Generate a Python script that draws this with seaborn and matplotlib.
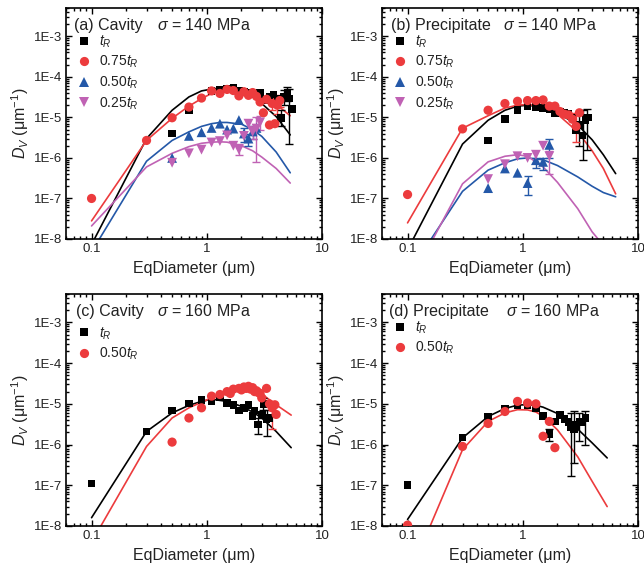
import numpy as np
import pandas as pd
import matplotlib
matplotlib.use("Agg")
import matplotlib.pyplot as plt
import seaborn as sns
from matplotlib.lines import Line2D
from matplotlib.ticker import LogLocator, FixedLocator, FuncFormatter, NullFormatter

# ---------------- data ----------------
# Panel (a) Cavity, 140 MPa
a_line_x = [0.1, 0.3, 0.5, 0.7, 0.9, 1.1, 1.3, 1.5, 2.0, 2.5, 3.0, 4.0, 5.3]
a_line_tR = [7.3e-9, 3e-6, 1.5e-5, 3.2e-5, 4.5e-5, 5.0e-5, 5.3e-5, 5.3e-5, 4.4e-5, 3.3e-5, 2.2e-5, 1.05e-5, 3.7e-6]
a_line_75 = [2.8e-8, 2.7e-6, 9.5e-6, 1.9e-5, 2.9e-5, 3.9e-5, 4.5e-5, 4.9e-5, 4.6e-5, 3.8e-5, 3.1e-5, 2.1e-5, 1.1e-5]
a_line_50 = [4.8e-9, 8.3e-7, 2.7e-6, 4.4e-6, 6.0e-6, 7.0e-6, 7.5e-6, 7.5e-6, 6.8e-6, 5.0e-6, 3.4e-6, 1.4e-6, 4.3e-7]
a_line_25 = [2.1e-8, 6e-7, 1.3e-6, 1.9e-6, 2.3e-6, 2.45e-6, 2.5e-6, 2.45e-6, 2.0e-6, 1.5e-6, 1.05e-6, 5.5e-7, 2.4e-7]

a_tR_x = [0.5, 0.7, 1.1, 1.3, 1.5, 1.7, 1.9, 2.1, 2.4, 2.6, 2.9, 3.2, 3.5, 3.8, 4.1, 4.4, 4.7, 5.0, 5.2, 5.5]
a_tR_y = [4e-6, 1.5e-5, 4.5e-5, 4.9e-5, 5.1e-5, 5.3e-5, 4.5e-5, 4.4e-5, 4.1e-5, 3.8e-5, 4.0e-5, 2.7e-5, 3.2e-5, 3.7e-5, 2.9e-5, 9.5e-6, 3.3e-5, 4.0e-5, 2.9e-5, 1.6e-5]
a_75_x = [0.1, 0.3, 0.5, 0.7, 0.9, 1.1, 1.3, 1.5, 1.7, 1.9, 2.1, 2.3, 2.5, 2.7, 2.9, 3.1, 3.3, 3.5, 3.7, 3.9, 4.1, 4.3]
a_75_y = [1e-7, 2.7e-6, 9.8e-6, 1.8e-5, 3e-5, 4.5e-5, 3.9e-5, 4.9e-5, 4.6e-5, 3.4e-5, 4.3e-5, 3.5e-5, 4.1e-5, 3.3e-5, 2.4e-5, 1.3e-5, 2.8e-5, 6.5e-6, 2.2e-5, 7e-6, 2.0e-5, 2.6e-5]
a_50_x = [0.5, 0.7, 0.9, 1.1, 1.3, 1.5, 1.7, 1.9, 2.1, 2.3, 2.5, 2.7]
a_50_y = [1.0e-6, 3.5e-6, 4.3e-6, 5.5e-6, 7e-6, 5e-6, 5.3e-6, 8.6e-6, 4e-6, 3.0e-6, 4.5e-6, 5.5e-6]
a_25_x = [0.5, 0.7, 0.9, 1.1, 1.3, 1.5, 1.7, 1.9, 2.1, 2.3, 2.5, 2.7, 2.9]
a_25_y = [7.6e-7, 1.3e-6, 1.6e-6, 2.4e-6, 2.6e-6, 3.6e-6, 2.0e-6, 1.6e-6, 3.5e-6, 7e-6, 4.4e-6, 5.3e-6, 7.5e-6]

a_tR_ex, a_tR_elo, a_tR_ehi = [5.2, 5.0, 4.7, 4.4], [2.2e-6, 2.5e-5, 2e-5, 6e-6], [5e-5, 5.5e-5, 4.8e-5, 1.5e-5]
a_75_ex, a_75_elo, a_75_ehi = [4.1, 4.3, 3.7], [1.2e-5, 1.8e-5, 1.5e-5], [2.8e-5, 3.5e-5, 3e-5]
a_50_ex, a_50_elo, a_50_ehi = [2.1, 2.3, 2.5], [2.5e-6, 2e-6, 3e-6], [5.5e-6, 4e-6, 6e-6]
a_25_ex, a_25_elo, a_25_ehi = [1.9, 2.7, 2.9, 2.5], [1.2e-6, 8e-7, 5e-6, 3e-6], [2.2e-6, 1e-5, 1.1e-5, 6e-6]

# Panel (b) Precipitate, 140 MPa
b_line_x = [0.1, 0.3, 0.5, 0.7, 0.9, 1.1, 1.5, 2.0, 3.0, 4.0, 5.0, 6.4]
b_line_tR = [5.4e-9, 2.2e-6, 8.5e-6, 1.5e-5, 1.9e-5, 2.0e-5, 1.8e-5, 1.3e-5, 6.5e-6, 2.8e-6, 1.2e-6, 4.1e-7]
b_line_75 = [2.5e-8, 5.4e-6, 1.1e-5, 1.7e-5, 2.0e-5, 2.1e-5, 1.8e-5, 1.2e-5, 4.4e-6, 1.5e-6, 5.5e-7, 1.3e-7]
b_line_50 = [1.3e-9, 1.5e-7, 5e-7, 7.6e-7, 9.5e-7, 1.0e-6, 9e-7, 6.5e-7, 3.4e-7, 2e-7, 1.4e-7, 1.1e-7]
b_line_25 = [6.8e-10, 2.3e-7, 8e-7, 1.1e-6, 1.2e-6, 1.1e-6, 6e-7, 2.5e-7, 5.6e-8, 1.5e-8, 7e-9, 2e-9]

b_tR_x = [0.5, 0.7, 0.9, 1.1, 1.3, 1.5, 1.7, 1.9, 2.1, 2.3, 2.5, 2.7, 2.9, 3.1, 3.3, 3.5, 3.7]
b_tR_y = [2.7e-6, 9e-6, 1.5e-5, 1.9e-5, 1.8e-5, 1.7e-5, 1.6e-5, 1.3e-5, 1.4e-5, 1.3e-5, 1.2e-5, 1.0e-5, 4.8e-6, 6.5e-6, 3.6e-6, 8.5e-6, 1.0e-5]
b_75_x = [0.1, 0.3, 0.5, 0.7, 0.9, 1.1, 1.3, 1.5, 1.7, 1.9, 2.1, 2.3, 2.5, 2.7, 2.9, 3.1]
b_75_y = [1.25e-7, 5.2e-6, 1.5e-5, 2.2e-5, 2.5e-5, 2.6e-5, 2.6e-5, 2.7e-5, 1.9e-5, 1.9e-5, 1.4e-5, 1.2e-5, 1.15e-5, 9e-6, 6e-6, 1.3e-5]
b_50_x = [0.5, 0.7, 0.9, 1.1, 1.3, 1.5, 1.7]
b_50_y = [1.8e-7, 5.5e-7, 4.3e-7, 2.4e-7, 8.8e-7, 8e-7, 2.1e-6]
b_25_x = [0.5, 0.7, 0.9, 1.1, 1.3, 1.5, 1.7]
b_25_y = [3e-7, 7e-7, 1.1e-6, 1.0e-6, 1.2e-6, 2e-6, 1.1e-6]

b_tR_ex, b_tR_elo, b_tR_ehi = [3.1, 3.3, 3.6], [2e-6, 9e-7, 1.6e-6], [1.2e-5, 1.5e-5, 1.6e-5]
b_75_ex, b_75_elo, b_75_ehi = [2.9], [2.5e-6], [1.3e-5]
b_50_ex, b_50_elo, b_50_ehi = [1.1, 1.3, 1.5, 1.7], [1.2e-7, 5.5e-7, 5e-7, 1e-6], [3.5e-7, 1e-6, 1e-6, 3e-6]
b_25_ex, b_25_elo, b_25_ehi = [1.7], [4e-7], [1.5e-6]

# Panel (c) Cavity, 160 MPa
c_line_x = [0.1, 0.3, 0.5, 0.7, 0.9, 1.1, 1.5, 2.0, 2.5, 3.0, 4.0, 5.4]
c_line_tR = [1.6e-8, 2.1e-6, 6.0e-6, 9.2e-6, 1.15e-5, 1.3e-5, 1.15e-5, 8.7e-6, 6.3e-6, 4.5e-6, 2.1e-6, 8.4e-7]
c_line_50 = [4e-9, 9e-7, 4.5e-6, 8e-6, 1.1e-5, 1.4e-5, 2.0e-5, 2.4e-5, 2.2e-5, 1.75e-5, 9.5e-6, 5.3e-6]

c_tR_x = [0.1, 0.3, 0.5, 0.7, 0.9, 1.1, 1.3, 1.5, 1.7, 1.9, 2.1, 2.3, 2.5, 2.6, 2.8, 3.0, 3.1, 3.3, 3.5]
c_tR_y = [1.1e-7, 2.1e-6, 6.8e-6, 1.03e-5, 1.25e-5, 1.15e-5, 1.45e-5, 1.05e-5, 9.5e-6, 6.8e-6, 8e-6, 9.3e-6, 5e-6, 6.8e-6, 3.1e-6, 5.5e-6, 1e-5, 4.2e-6, 4.5e-6]
c_50_x = [0.5, 0.7, 0.9, 1.1, 1.3, 1.5, 1.6, 1.7, 1.9, 2.0, 2.1, 2.2, 2.3, 2.4, 2.5, 2.6, 2.7, 2.8, 2.9, 3.0, 3.3, 3.5, 3.7, 3.9, 4.0]
c_50_y = [1.15e-6, 4.5e-6, 8e-6, 1.55e-5, 1.7e-5, 2.0e-5, 1.8e-5, 2.3e-5, 2.4e-5, 2.2e-5, 2.6e-5, 2.4e-5, 2.7e-5, 2.3e-5, 2.5e-5, 2.0e-5, 2.1e-5, 1.9e-5, 1.8e-5, 1.4e-5, 2.4e-5, 1.0e-5, 8e-6, 9.5e-6, 5.5e-6]

c_tR_ex, c_tR_elo, c_tR_ehi = [2.8, 3.3, 3.1], [1.8e-6, 1.6e-6, 7e-6], [4.5e-6, 7e-6, 1.4e-5]
c_50_ex, c_50_elo, c_50_ehi = [3.7], [2.4e-6], [1.1e-5]

# Panel (d) Precipitate, 160 MPa
d_line_x = [0.1, 0.3, 0.5, 0.7, 0.9, 1.1, 1.3, 1.5, 2.0, 3.0, 4.0, 5.4]
d_line_tR = [1.45e-8, 1.46e-6, 4.9e-6, 7.7e-6, 9.3e-6, 9.6e-6, 9.2e-6, 8.3e-6, 5.8e-6, 2.4e-6, 1.1e-6, 4.7e-7]
d_line_50 = [4.9e-10, 7.5e-7, 3.7e-6, 6.0e-6, 7.2e-6, 7.1e-6, 6.3e-6, 5.0e-6, 2.3e-6, 5e-7, 1.25e-7, 3e-8]

d_tR_x = [0.1, 0.3, 0.5, 0.7, 0.9, 1.1, 1.3, 1.5, 1.7, 1.9, 2.1, 2.3, 2.5, 2.6, 2.8, 2.9, 3.1, 3.3, 3.5]
d_tR_y = [1e-7, 1.5e-6, 4.9e-6, 7.5e-6, 9.1e-6, 9.1e-6, 8e-6, 5e-6, 1.8e-6, 3.7e-6, 5.4e-6, 4.2e-6, 3.6e-6, 2.6e-6, 2.4e-6, 3e-6, 3.7e-6, 3.5e-6, 4.5e-6]
d_50_x = [0.1, 0.3, 0.5, 0.7, 0.9, 1.1, 1.3, 1.5, 1.7, 1.9]
d_50_y = [1.05e-8, 9e-7, 3.3e-6, 6.5e-6, 1.15e-5, 1.05e-5, 1.0e-5, 1.6e-6, 3.7e-6, 8.4e-7]

d_tR_ex, d_tR_elo, d_tR_ehi = [1.7, 2.6, 2.8, 3.1, 3.5], [1.2e-6, 1.7e-7, 3.6e-7, 1.2e-6, 1e-6], [2.4e-6, 6e-6, 6.5e-6, 6e-6, 6.5e-6]

labels_4 = [r"$t_R$", r"0.75$t_R$", r"0.50$t_R$", r"0.25$t_R$"]
labels_2 = [r"$t_R$", r"0.50$t_R$"]
x_ticks = [0.1, 1, 10]
x_ticklabels = ["0.1", "1", "10"]
y_ticks = [1e-8, 1e-7, 1e-6, 1e-5, 1e-4, 1e-3]
y_ticklabels = ["1E-8", "1E-7", "1E-6", "1E-5", "1E-4", "1E-3"]

# ---------------- style ----------------
BLACK = "#000000"
RED = "#ec3b3d"
BLUE = "#2458a8"
PURPLE = "#c062b4"
TEXT = "#222222"

sns.set_style("ticks")
plt.rcParams['font.family'] = ['Liberation Sans', 'DejaVu Sans']
plt.rcParams['mathtext.fontset'] = 'custom'
plt.rcParams['mathtext.rm'] = 'Liberation Sans'
plt.rcParams['mathtext.it'] = 'Liberation Sans:italic'
plt.rcParams['mathtext.bf'] = 'Liberation Sans:bold'
plt.rcParams['axes.linewidth'] = 1.2
plt.rcParams['text.color'] = TEXT
plt.rcParams['axes.labelcolor'] = TEXT
plt.rcParams['axes.edgecolor'] = BLACK
plt.rcParams['xtick.color'] = BLACK
plt.rcParams['ytick.color'] = BLACK
plt.rcParams['xtick.labelcolor'] = TEXT
plt.rcParams['ytick.labelcolor'] = TEXT

W, H = 644, 572
fig = plt.figure(figsize=(W / 100, H / 100), dpi=100)


def px_axes(left, top, right, bottom):
    return fig.add_axes([left / W, 1 - bottom / H, (right - left) / W, (bottom - top) / H])


def draw_panel(ax, tag, tag_x, sigma_x, sigma, series, lines, errs, labels, leg_y=0.89):
    ax.set_xscale('log')
    ax.set_yscale('log')
    ax.set_xlim(0.06, 10)
    ax.set_ylim(1e-8, 5e-3)
    # fitted curves
    for (lx, ly, col) in lines:
        df = pd.DataFrame({'x': lx, 'y': ly})
        sns.lineplot(data=df, x='x', y='y', color=col, lw=1.2, sort=False,
                     estimator=None, ax=ax, zorder=2)
    # error bars
    for (ex, elo, ehi, col) in errs:
        ax.vlines(ex, elo, ehi, colors=col, lw=1.0, zorder=2.5)
        ax.plot(ex, elo, ls='none', marker='_', ms=6, mew=1.0, color=col, zorder=2.5)
        ax.plot(ex, ehi, ls='none', marker='_', ms=6, mew=1.0, color=col, zorder=2.5)
    # data points
    handles = []
    for (sx, sy, col, mk, sz), lab in zip(series, labels):
        df = pd.DataFrame({'x': sx, 'y': sy})
        sns.scatterplot(data=df, x='x', y='y', color=col, marker=mk, s=sz,
                        edgecolor='none', linewidth=0, ax=ax, zorder=3, legend=False)
        handles.append(Line2D([], [], ls='none', marker=mk, color=col,
                              markersize=np.sqrt(sz), markeredgewidth=0, label=lab))
    ax.legend(handles=handles, loc='upper left', bbox_to_anchor=(0.045, leg_y),
              frameon=False, fontsize=10, handlelength=1.0, handletextpad=0.55,
              labelspacing=0.3, borderpad=0, borderaxespad=0, numpoints=1)
    ax.text(tag_x, 0.926, tag, transform=ax.transAxes, fontsize=11.5,
            ha='left', va='center')
    ax.text(sigma_x, 0.926, r"$\sigma$ = " + sigma, transform=ax.transAxes,
            fontsize=11.5, ha='left', va='center')
    # ticks
    ax.xaxis.set_major_locator(FixedLocator(x_ticks))
    ax.xaxis.set_major_formatter(FuncFormatter(lambda v, p: x_ticklabels[x_ticks.index(v)] if v in x_ticks else ""))
    ax.xaxis.set_minor_locator(LogLocator(base=10, subs=np.arange(2, 10)))
    ax.xaxis.set_minor_formatter(NullFormatter())
    ax.yaxis.set_major_locator(FixedLocator(y_ticks))
    ax.set_yticklabels(y_ticklabels)
    ax.yaxis.set_minor_locator(LogLocator(base=10, subs=np.arange(2, 10), numticks=20))
    ax.yaxis.set_minor_formatter(NullFormatter())
    ax.tick_params(which='both', direction='in', top=True, right=True, width=1.0,
                   labelsize=9.5, pad=3)
    ax.tick_params(which='major', length=4.5)
    ax.tick_params(which='minor', length=2.5)
    ax.set_xlabel("EqDiameter (μm)", fontsize=11.5, labelpad=4)
    ax.set_ylabel(r"$D_V$ (μm$^{-1}$)", fontsize=11.5, labelpad=2)


ax_a = px_axes(66, 8, 322, 239)
ax_b = px_axes(382, 8, 638, 239)
ax_c = px_axes(66, 294, 322, 526)
ax_d = px_axes(382, 294, 638, 526)

SQ, CI, TR = 30, 44, 50

draw_panel(ax_a, "(a) Cavity", 0.03, 0.355, "140 MPa",
           [(a_tR_x, a_tR_y, BLACK, 's', SQ), (a_75_x, a_75_y, RED, 'o', CI),
            (a_50_x, a_50_y, BLUE, '^', TR), (a_25_x, a_25_y, PURPLE, 'v', TR)],
           [(a_line_x, a_line_tR, BLACK), (a_line_x, a_line_75, RED),
            (a_line_x, a_line_50, BLUE), (a_line_x, a_line_25, PURPLE)],
           [(a_tR_ex, a_tR_elo, a_tR_ehi, BLACK), (a_75_ex, a_75_elo, a_75_ehi, RED),
            (a_50_ex, a_50_elo, a_50_ehi, BLUE), (a_25_ex, a_25_elo, a_25_ehi, PURPLE)],
           labels_4)

draw_panel(ax_b, "(b) Precipitate", 0.035, 0.473, "140 MPa",
           [(b_tR_x, b_tR_y, BLACK, 's', SQ), (b_75_x, b_75_y, RED, 'o', CI),
            (b_50_x, b_50_y, BLUE, '^', TR), (b_25_x, b_25_y, PURPLE, 'v', TR)],
           [(b_line_x, b_line_tR, BLACK), (b_line_x, b_line_75, RED),
            (b_line_x, b_line_50, BLUE), (b_line_x, b_line_25, PURPLE)],
           [(b_tR_ex, b_tR_elo, b_tR_ehi, BLACK), (b_75_ex, b_75_elo, b_75_ehi, RED),
            (b_50_ex, b_50_elo, b_50_ehi, BLUE), (b_25_ex, b_25_elo, b_25_ehi, PURPLE)],
           labels_4)

draw_panel(ax_c, "(c) Cavity", 0.04, 0.355, "160 MPa",
           [(c_tR_x, c_tR_y, BLACK, 's', SQ), (c_50_x, c_50_y, RED, 'o', CI)],
           [(c_line_x, c_line_tR, BLACK), (c_line_x, c_line_50, RED)],
           [(c_tR_ex, c_tR_elo, c_tR_ehi, BLACK), (c_50_ex, c_50_elo, c_50_ehi, RED)],
           labels_2, leg_y=0.865)

draw_panel(ax_d, "(d) Precipitate", 0.027, 0.484, "160 MPa",
           [(d_tR_x, d_tR_y, BLACK, 's', SQ), (d_50_x, d_50_y, RED, 'o', CI)],
           [(d_line_x, d_line_tR, BLACK), (d_line_x, d_line_50, RED)],
           [(d_tR_ex, d_tR_elo, d_tR_ehi, BLACK)],
           labels_2)

fig.savefig("out.png", dpi=100)
